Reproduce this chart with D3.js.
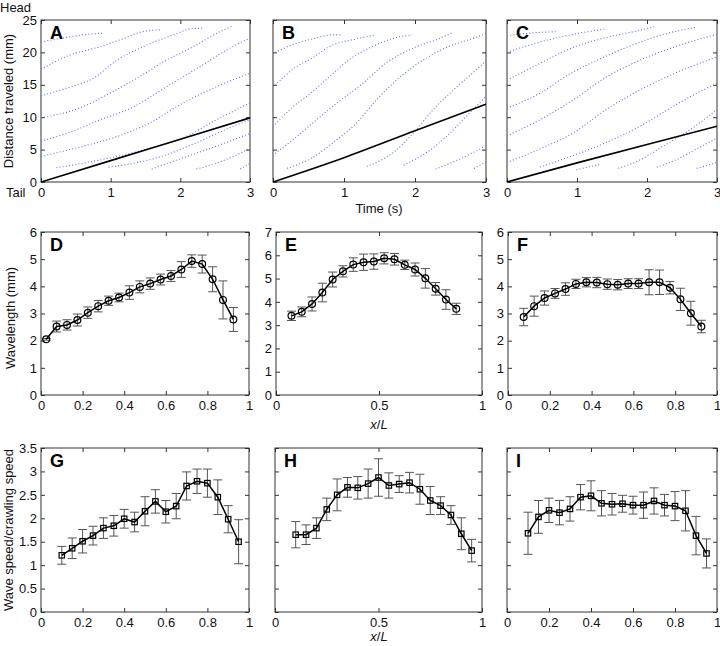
<!DOCTYPE html>
<html><head><meta charset="utf-8">
<script src="https://cdn.jsdelivr.net/npm/d3@7"></script>
<style>
body{margin:0;background:#fff;}
svg{font-family:"Liberation Sans",Arial,Helvetica,sans-serif;}
</style></head>
<body>
<svg id="c" width="720" height="646"></svg>
<script>
// ---------- Top row: kymograph traces [time s, distance mm] ----------
const timeTicks = [0,1,2,3];
const distTicks = [0,5,10,15,20,25];

const lineA = [[0,0],[1,3.3],[2,6.6],[3,9.9]];
const lineB = [[0,0],[1,3.75],[2,7.9],[3,12.0]];
const lineC = [[0,0],[1,2.95],[2,5.8],[3,8.6]];

const tracesA = [
  [[0,21.6],[0.3,22.2],[0.6,22.7],[0.9,23.0]],
  [[0,17.4],[0.37,19.4],[0.85,20.9],[1.2,22.2],[1.42,23.1],[1.73,23.5]],
  [[0,13.3],[0.37,14.5],[0.75,16.0],[1.09,18.8],[1.47,20.9],[1.9,22.7],[2.19,23.7],[2.33,23.7]],
  [[0,9.9],[0.6,11.6],[0.99,13.7],[1.42,16.3],[1.8,18.8],[2.19,20.9],[2.57,23.2],[2.76,24.1]],
  [[0,6.3],[0.37,7.5],[0.85,9.6],[1.33,11.6],[1.8,14.7],[2.28,17.8],[2.67,20.4],[3,22.2]],
  [[0,3.95],[0.22,4.5],[0.6,5.5],[1.09,7.0],[1.56,9.1],[2.04,12.2],[2.52,14.7],[3,16.8]],
  [[0.22,2.2],[0.6,2.9],[1.09,3.95],[1.56,5.2],[2.04,6.8],[2.52,9.6],[3,12.2]],
  [[0.97,2.3],[1.33,2.9],[1.8,4.2],[2.28,6.3],[2.76,8.6],[3,9.6]],
  [[1.59,2.0],[1.95,3.4],[2.38,5.0],[2.76,6.5],[3,7.5]],
  [[2.23,2.0],[2.52,2.9],[2.76,3.95],[3,5.2]],
  [[2.86,2.0],[3,2.9]]
];
const tracesB = [
  [[0.03,20.0],[0.3,21.3],[0.6,22.2],[0.81,22.7],[0.95,22.7]],
  [[0.03,14.9],[0.29,17.5],[0.53,19.0],[0.85,21.2],[1.14,22.0],[1.44,22.7]],
  [[0.03,8.9],[0.29,11.7],[0.53,13.7],[0.76,15.9],[1.09,19.0],[1.42,21.0],[1.7,22.2],[1.96,22.7]],
  [[0.03,4.4],[0.29,6.6],[0.57,9.2],[0.9,12.2],[1.23,14.9],[1.61,18.5],[1.98,20.7],[2.31,22.0],[2.52,23.0]],
  [[0.2,2.1],[0.53,3.6],[0.85,6.1],[1.14,8.7],[1.46,12.7],[1.79,16.2],[2.17,19.2],[2.54,21.2],[2.83,22.2],[3,22.9]],
  [[1.32,2.4],[1.7,4.6],[1.98,7.6],[2.26,11.2],[2.54,14.2],[2.83,17.0],[3,18.7]],
  [[1.84,2.6],[2.17,4.6],[2.45,7.1],[2.73,10.2],[3,13.2]],
  [[2.29,2.0],[2.54,3.1],[2.83,4.6],[3,5.6]],
  [[2.83,2.1],[3,3.1]]
];
const tracesC = [
  [[0,22.6],[0.35,23.0],[0.73,23.2]],
  [[0,20.0],[0.47,21.6],[0.95,22.8],[1.4,23.6]],
  [[0,15.7],[0.47,18.3],[0.95,20.8],[1.42,22.3],[1.85,23.3],[2.12,24.0]],
  [[0,11.4],[0.47,13.7],[0.9,16.7],[1.33,19.0],[1.76,21.0],[2.24,22.8],[2.71,23.9]],
  [[0,7.1],[0.47,9.6],[0.95,12.7],[1.42,16.2],[1.9,18.8],[2.38,20.8],[3,22.8]],
  [[0,3.0],[0.47,5.1],[0.95,7.6],[1.42,11.2],[1.9,14.2],[2.38,16.7],[3,19.3]],
  [[0.47,2.3],[0.95,4.1],[1.42,6.1],[1.9,8.6],[2.38,11.7],[2.71,13.7],[3,15.2]],
  [[0.99,1.9],[1.33,2.7]],
  [[1.59,2.1],[1.9,3.4],[2.24,5.6],[2.62,8.1],[3,11.2]],
  [[2.14,2.3],[2.43,3.5],[2.71,5.1],[3,6.8]],
  [[2.71,2.1],[3,3.0]]
];

// ---------- Middle row: wavelength (mm) vs x/L ----------
const xD = [0.025,0.075,0.125,0.175,0.225,0.275,0.325,0.375,0.425,0.475,0.525,0.575,0.625,0.675,0.725,0.775,0.825,0.875,0.925];
const yD = [2.05,2.52,2.58,2.76,3.03,3.27,3.47,3.59,3.77,3.98,4.1,4.25,4.38,4.62,4.93,4.82,4.26,3.5,2.78];
const eD = [0.03,0.2,0.19,0.22,0.21,0.21,0.17,0.16,0.25,0.22,0.21,0.2,0.2,0.29,0.23,0.33,0.46,0.7,0.44];

const xE = [0.075,0.125,0.175,0.225,0.275,0.325,0.375,0.425,0.475,0.525,0.575,0.625,0.675,0.725,0.775,0.825,0.875];
const yE = [3.4,3.57,3.91,4.4,4.96,5.31,5.6,5.7,5.73,5.87,5.83,5.59,5.39,5.01,4.56,4.1,3.7];
const eE = [0.2,0.21,0.3,0.4,0.32,0.24,0.29,0.35,0.33,0.24,0.25,0.2,0.28,0.42,0.27,0.42,0.24];

const xF = [0.075,0.125,0.175,0.225,0.275,0.325,0.375,0.425,0.475,0.525,0.575,0.625,0.675,0.725,0.775,0.825,0.875,0.925];
const yF = [2.87,3.27,3.57,3.74,3.9,4.09,4.15,4.14,4.08,4.06,4.1,4.1,4.15,4.15,3.95,3.52,3.01,2.52];
const eF = [0.32,0.37,0.26,0.18,0.23,0.17,0.17,0.19,0.19,0.19,0.18,0.18,0.46,0.45,0.23,0.41,0.44,0.23];

// ---------- Bottom row: wave speed / crawling speed vs x/L ----------
const xGHI = [0.1,0.15,0.2,0.25,0.3,0.35,0.4,0.45,0.5,0.55,0.6,0.65,0.7,0.75,0.8,0.85,0.9,0.95];
const yG = [1.21,1.36,1.51,1.63,1.79,1.84,1.99,1.92,2.15,2.36,2.14,2.26,2.69,2.79,2.75,2.45,1.98,1.5];
const eG = [0.19,0.22,0.25,0.2,0.22,0.22,0.2,0.21,0.31,0.25,0.24,0.27,0.3,0.26,0.3,0.37,0.29,0.47];
const yH = [1.65,1.65,1.79,2.19,2.5,2.66,2.65,2.74,2.87,2.7,2.73,2.76,2.62,2.38,2.27,2.07,1.67,1.31];
const eH = [0.28,0.21,0.22,0.24,0.34,0.21,0.24,0.31,0.4,0.27,0.18,0.22,0.32,0.3,0.19,0.2,0.34,0.24];
const yI = [1.68,2.03,2.17,2.12,2.2,2.45,2.48,2.32,2.3,2.31,2.28,2.28,2.37,2.28,2.26,2.16,1.63,1.25];
const eI = [0.45,0.35,0.26,0.26,0.26,0.27,0.32,0.27,0.23,0.18,0.19,0.28,0.28,0.23,0.31,0.43,0.41,0.31];

// tick sets
const xTicks5 = [0,0.2,0.4,0.6,0.8,1];
const xTicks2 = [0,0.5,1];
const wlTicks6 = [0,1,2,3,4,5,6];
const wlTicks7 = [0,1,2,3,4,5,6,7];
const spTicks = [0,0.5,1,1.5,2,2.5,3,3.5];

// ---------------------------------------------------------------
const svg = d3.select("#c");
const FRAME = "#333";
const fmt = d => String(d);

function panel(o){
  const x = d3.scaleLinear().domain(o.xd).range([o.l, o.r]);
  const y = d3.scaleLinear().domain(o.yd).range([o.b, o.t]);
  const g = svg.append("g");
  const T = 4;
  const bot = g.append("g").attr("transform",`translate(0,${o.b})`)
    .call(d3.axisBottom(x).tickValues(o.xt).tickSize(-T).tickPadding(6).tickFormat(o.xlab ? fmt : ""));
  const top = g.append("g").attr("transform",`translate(0,${o.t})`)
    .call(d3.axisTop(x).tickValues(o.xt).tickSize(-T).tickFormat(""));
  const lft = g.append("g").attr("transform",`translate(${o.l},0)`)
    .call(d3.axisLeft(y).tickValues(o.yt).tickSize(-T).tickPadding(4).tickFormat(o.ylab ? fmt : ""));
  const rgt = g.append("g").attr("transform",`translate(${o.r},0)`)
    .call(d3.axisRight(y).tickValues(o.yt).tickSize(-T).tickFormat(""));
  [bot,top,lft,rgt].forEach(a=>{
    a.select(".domain").remove();
    a.selectAll("line").attr("stroke",FRAME);
    a.selectAll("text").attr("font-size",13).attr("fill","#111")
      .attr("font-family",'"Liberation Sans",Arial,sans-serif');
  });
  g.append("rect").attr("x",o.l).attr("y",o.t).attr("width",o.r-o.l).attr("height",o.b-o.t)
    .attr("fill","none").attr("stroke",FRAME).attr("stroke-width",1);
  const clipId = "clip"+o.letter;
  svg.append("clipPath").attr("id",clipId).append("rect")
    .attr("x",o.l).attr("y",o.t).attr("width",o.r-o.l).attr("height",o.b-o.t);
  const pg = g.append("g").attr("clip-path",`url(#${clipId})`);
  if (o.traces){
    const ln = d3.line().x(d=>x(d[0])).y(d=>y(d[1])).curve(d3.curveMonotoneX);
    pg.selectAll("path.tr").data(o.traces).join("path").attr("class","tr")
      .attr("d",ln).attr("fill","none").attr("stroke","#5f74e0")
      .attr("stroke-width",1.1).attr("stroke-dasharray","1,2.2");
    pg.append("path").datum(o.line).attr("d",d3.line().x(d=>x(d[0])).y(d=>y(d[1])).curve(d3.curveMonotoneX))
      .attr("fill","none").attr("stroke","#000").attr("stroke-width",1.6);
  }
  if (o.xs){
    const pts = o.xs.map((v,i)=>({x:v,y:o.ys[i],e:o.es[i]}));
    const eb = g.append("g").attr("stroke","#555").attr("stroke-width",1);
    pts.forEach(p=>{
      eb.append("line").attr("x1",x(p.x)).attr("x2",x(p.x)).attr("y1",y(p.y-p.e)).attr("y2",y(p.y+p.e));
      [p.y-p.e,p.y+p.e].forEach(v=>eb.append("line").attr("x1",x(p.x)-4.5).attr("x2",x(p.x)+4.5)
        .attr("y1",y(v)).attr("y2",y(v)));
    });
    g.append("path").datum(pts).attr("d",d3.line().x(d=>x(d.x)).y(d=>y(d.y)))
      .attr("fill","none").attr("stroke","#000").attr("stroke-width",1.5);
    if (o.marker==="circle"){
      g.selectAll("circle.m").data(pts).join("circle").attr("class","m")
        .attr("cx",d=>x(d.x)).attr("cy",d=>y(d.y)).attr("r",3.4)
        .attr("fill","none").attr("stroke","#000").attr("stroke-width",1.2);
    } else {
      const s=5.4;
      g.selectAll("rect.m").data(pts).join("rect").attr("class","m")
        .attr("x",d=>x(d.x)-s/2).attr("y",d=>y(d.y)-s/2).attr("width",s).attr("height",s)
        .attr("fill","none").attr("stroke","#000").attr("stroke-width",1.2);
    }
  }
  g.append("text").attr("x",o.l+9).attr("y",o.t+19).text(o.letter)
    .attr("font-size",18).attr("font-weight","bold").attr("fill","#000");
}

// top row
panel({letter:"A",l:41,r:250,t:20,b:182,xd:[0,3],yd:[0,25],xt:timeTicks,yt:distTicks,xlab:true,ylab:true,traces:tracesA,line:lineA});
panel({letter:"B",l:273,r:486,t:20,b:182,xd:[0,3],yd:[0,25],xt:timeTicks,yt:distTicks,xlab:true,ylab:false,traces:tracesB,line:lineB});
panel({letter:"C",l:507,r:717,t:20,b:182,xd:[0,3],yd:[0,25],xt:timeTicks,yt:distTicks,xlab:true,ylab:false,traces:tracesC,line:lineC});
// middle row
panel({letter:"D",l:41,r:249,t:232,b:395,xd:[0,1],yd:[0,6],xt:xTicks5,yt:wlTicks6,xlab:true,ylab:true,xs:xD,ys:yD,es:eD,marker:"circle"});
panel({letter:"E",l:276,r:482,t:232,b:395,xd:[0,1],yd:[0,7],xt:xTicks2,yt:wlTicks7,xlab:true,ylab:true,xs:xE,ys:yE,es:eE,marker:"circle"});
panel({letter:"F",l:508,r:717,t:232,b:395,xd:[0,1],yd:[0,6],xt:xTicks5,yt:wlTicks6,xlab:true,ylab:true,xs:xF,ys:yF,es:eF,marker:"circle"});
// bottom row
panel({letter:"G",l:41,r:249,t:448,b:612,xd:[0,1],yd:[0,3.5],xt:xTicks5,yt:spTicks,xlab:true,ylab:true,xs:xGHI,ys:yG,es:eG,marker:"square"});
panel({letter:"H",l:275,r:482,t:448,b:612,xd:[0,1],yd:[0,3.5],xt:xTicks2,yt:spTicks,xlab:true,ylab:false,xs:xGHI,ys:yH,es:eH,marker:"square"});
panel({letter:"I",l:507,r:717,t:448,b:612,xd:[0,1],yd:[0,3.5],xt:xTicks5,yt:spTicks,xlab:true,ylab:false,xs:xGHI,ys:yI,es:eI,marker:"square"});

// labels
const lab = (x,y,t,rot,opts={}) => {
  const el = svg.append("text").attr("font-size",13).attr("fill","#111")
    .attr("text-anchor",opts.anchor||"middle");
  if (rot) el.attr("transform",`translate(${x},${y}) rotate(-90)`);
  else el.attr("x",x).attr("y",y);
  if (opts.italic){
    el.append("tspan").attr("font-style","italic").text("x");
    el.append("tspan").text("/");
    el.append("tspan").attr("font-style","italic").text("L");
  } else el.text(t);
  return el;
};
lab(0,12,"Head",false,{anchor:"start"});
lab(6,197,"Tail",false,{anchor:"start"});
lab(13,101,"Distance traveled (mm)",true);
lab(379,213,"Time (s)");
lab(15,318,"Wavelength (mm)",true);
lab(379,429,"",false,{italic:true});
lab(13,530,"Wave speed/crawling speed",true);
lab(379,641,"",false,{italic:true});
</script>
</body></html>
